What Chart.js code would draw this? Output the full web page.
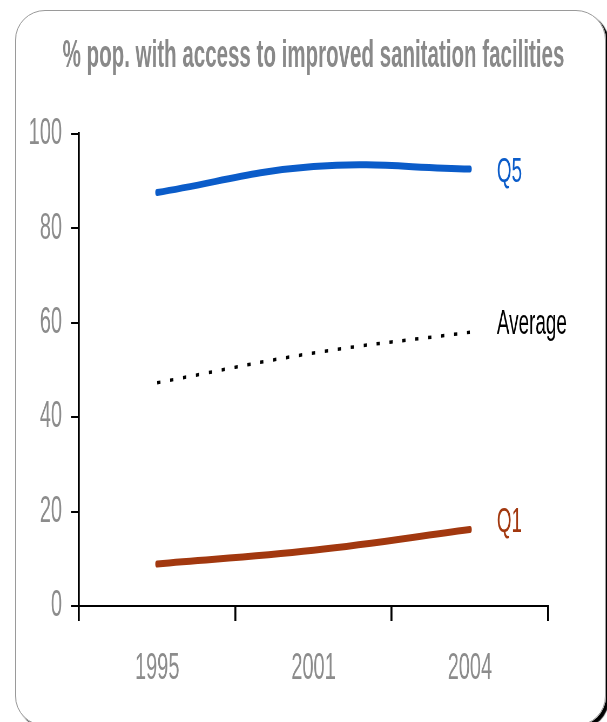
<!DOCTYPE html>
<html>
<head>
<meta charset="utf-8">
<script src="https://cdn.jsdelivr.net/npm/chart.js@4.4.0/dist/chart.umd.min.js"></script>
<style>
  html, body { margin: 0; padding: 0; background: #fff; overflow: hidden; }
  #frame {
    position: absolute; left: 15px; top: 10px; width: 589px; height: 714px;
    border: 1px solid #9a9a9a; border-radius: 30px;
    box-shadow: 3px 3px 1px #000;
  }
  #myChart {
    position: absolute; left: 0; top: 0;
    transform: scaleX(0.54003); transform-origin: 0 0;
  }
</style>
</head>
<body>
<div id="frame"></div>
<canvas id="myChart" width="1124" height="722"></canvas>
<script>
// values
var years = ['1995', '2001', '2004'];
var q5 = [87.6, 93.1, 92.6];
var average = [47.3, 53.6, 58.0];
var q1 = [8.9, 11.8, 16.2];
var yTicks = [0, 20, 40, 60, 80, 100];
var titleText = '% pop. with access to improved sanitation facilities';

// the original uses a tall condensed face, so the canvas is drawn wide and squeezed
var face = "'Liberation Sans', Arial, sans-serif";
Chart.defaults.font.family = face;

// title centred over the plot area (the built-in one gets squeezed to the plot width)
var topTitle = {
    id: 'topTitle',
    afterDraw: function (chart) {
        var ctx = chart.ctx;
        var area = chart.chartArea;
        ctx.save();
        ctx.font = 'bold 38px ' + face;
        ctx.fillStyle = '#898989';
        ctx.textAlign = 'center';
        ctx.textBaseline = 'middle';
        ctx.fillText(titleText, (area.left + area.right) / 2, 57);
        ctx.restore();
    }
};

// writes the series name just right of the last point
var endLabels = {
    id: 'endLabels',
    afterDatasetsDraw: function (chart) {
        var ctx = chart.ctx;
        ctx.save();
        ctx.font = '35px ' + face;
        ctx.textAlign = 'left';
        ctx.textBaseline = 'middle';
        chart.data.datasets.forEach(function (ds, i) {
            var pts = chart.getDatasetMeta(i).data;
            var last = pts[pts.length - 1];
            ctx.fillStyle = ds.labelColor;
            ctx.fillText(ds.label, last.x + 50, last.y + ds.labelDy);
        });
        ctx.restore();
    }
};

var ctx = document.getElementById("myChart").getContext('2d');
var mychart = new Chart(ctx, {
    type: 'line',
    data: {
        labels: years,
        datasets: [{
            label: 'Q5',
            data: q5,
            borderColor: '#0b5cc9',
            labelColor: '#0b5cc9',
            labelDy: 3,
            borderWidth: 7,
            borderCapStyle: 'round',
            tension: 0.4
        }, {
            label: 'Average',
            data: average,
            borderColor: '#000',
            labelColor: '#000',
            labelDy: -8,
            borderWidth: 3.5,
            borderDash: [6, 18],
            tension: 0.4
        }, {
            label: 'Q1',
            data: q1,
            borderColor: '#a2380f',
            labelColor: '#a2380f',
            labelDy: -7,
            borderWidth: 7,
            borderCapStyle: 'round',
            tension: 0.4
        }]
    },
    plugins: [topTitle, endLabels],
    options: {
        responsive: false,
        animation: false,
        elements: { point: { radius: 0 } },
        layout: { padding: { top: 134, right: 109.2, bottom: 0, left: 0 } },
        plugins: {
            legend: { display: false },
            tooltip: { enabled: false },
            title: { display: false }
        },
        scales: {
            x: {
                offset: true,
                afterFit: function (scale) { scale.height = 116; },
                grid: { offset: true, drawOnChartArea: false, color: '#000', lineWidth: 3.7, tickLength: 15 },
                border: { display: true, color: '#000', width: 2 },
                ticks: { color: '#8c8c8c', font: { size: 37 }, padding: 26 }
            },
            y: {
                min: 0,
                max: 100,
                afterFit: function (scale) { scale.width = 146.3; },
                afterBuildTicks: function (scale) {
                    scale.ticks = yTicks.map(function (v) { return { value: v }; });
                },
                grid: { drawOnChartArea: false, color: '#000', lineWidth: 2, tickLength: 14.8 },
                border: { display: true, color: '#000', width: 3.7 },
                ticks: { color: '#8c8c8c', font: { size: 37 }, padding: 16.7 }
            }
        }
    }
});
</script>
</body>
</html>
